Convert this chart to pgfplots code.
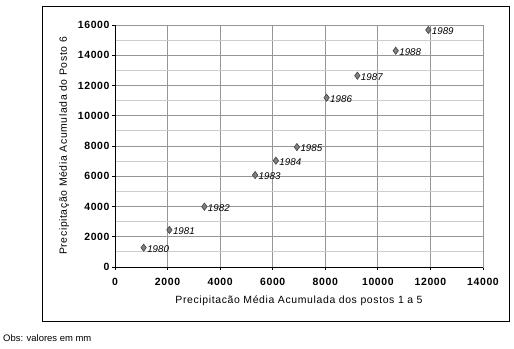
\documentclass[border=0pt]{standalone}
\usepackage{pgfplots}
\pgfplotsset{compat=1.18}
\usepackage{fontspec}
\setmainfont{Liberation Sans}
\setsansfont{Liberation Sans}
\newfontfamily\widefont[LetterSpace=6]{Liberation Sans}
\pgfplotstableread{
x y lab
1090 1280 1980
2070 2450 1981
3400 3990 1982
5330 6080 1983
6120 7030 1984
6920 7930 1985
8050 11190 1986
9220 12650 1987
10680 14300 1988
11920 15670 1989
}\datatable
\definecolor{majgrid}{RGB}{150,150,150}
\definecolor{mingrid}{RGB}{205,205,205}
\definecolor{mk}{RGB}{128,128,128}
\begin{document}
\begin{tikzpicture}[x=1bp,y=1bp]
\path[use as bounding box] (0,0) rectangle (514,348);
\draw[line width=1pt,black] (42,27) rectangle (509,342);
\draw[line width=1.2pt,black] (509.8,27.5) -- (509.8,341);
\draw[line width=1.2pt,black] (43,26.2) -- (510.4,26.2);
\begin{axis}[
  at={(115bp,81bp)}, anchor=origin,
  scale only axis, width=368bp, height=242bp,
  xmin=0, xmax=14000, ymin=0, ymax=16000,
  xtick={0,2000,...,14000}, ytick={0,2000,...,16000},
  minor ytick={1000,3000,...,15000},
  grid=both,
  major grid style={majgrid, line width=0.8pt},
  minor grid style={mingrid, line width=0.8pt},
  axis line style={majgrid, line width=0.8pt},
  tick style={black, line width=0.8pt},
  minor tick length=0pt,
  major tick length=3bp,
  tick align=outside,
  xtick pos=bottom, ytick pos=left,
  scaled ticks=false,
  /pgf/number format/assume math mode=true,
  /pgf/number format/1000 sep={},
  ticklabel style={font=\widefont\fontsize{10.5}{12}\selectfont\bfseries},
  xticklabel style={yshift=-5bp},
  yticklabel style={xshift=1bp},
  xlabel={Precipitacão Média Acumulada dos postos 1 a 5},
  ylabel={Precipitação Média Acumulada do Posto 6},
  label style={font=\widefont\fontsize{10.5}{12}\selectfont},
  xlabel style={yshift=-3bp},
  ylabel style={yshift=2bp},
  clip=false,
]
\draw[black,line width=1pt] (axis cs:0,0) -- (axis cs:14000,0);
\draw[black,line width=1pt] (axis cs:0,0) -- (axis cs:0,16000);
\addplot[only marks, mark=diamond*, mark size=3.6bp, mark options={fill=mk, draw=black!75, line width=0.6pt},
  nodes near coords, point meta=explicit symbolic,
  every node near coord/.append style={anchor=west, xshift=0bp, yshift=-1bp, font=\fontsize{9.8}{11}\selectfont\itshape}]
  table[x=x, y=y, meta=lab] {\datatable};
\end{axis}
\node[anchor=base west, font=\fontsize{9.5}{11}\selectfont, inner sep=0pt] at (3,7) {Obs: valores em mm};
\end{tikzpicture}
\end{document}
